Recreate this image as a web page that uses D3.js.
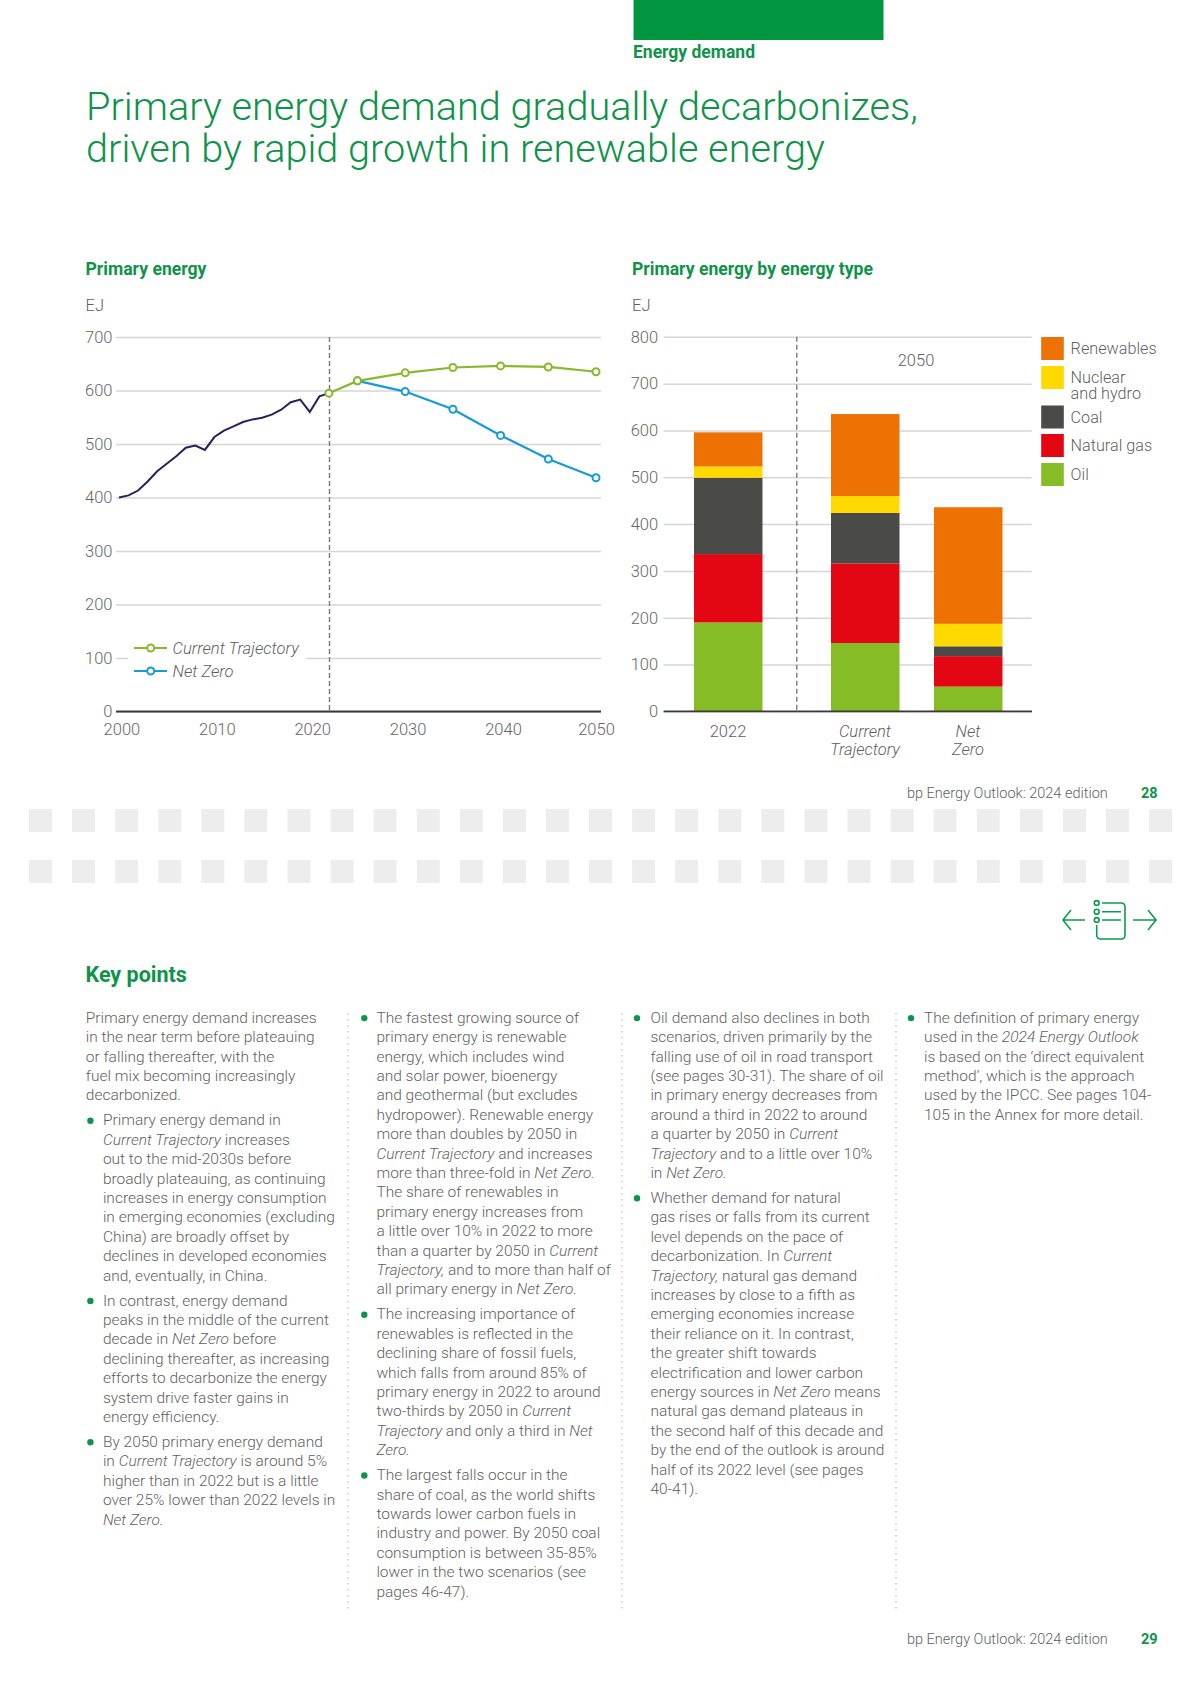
<!DOCTYPE html>
<html>
<head>
<meta charset="utf-8">
<title>Primary energy demand</title>
<script src="https://cdn.jsdelivr.net/npm/d3@7"></script>
<style>
  html, body { margin: 0; padding: 0; background: #fff; }
  svg { display: block; }
  text { font-family: Roboto, "Liberation Sans", sans-serif; font-weight: 300; fill: #5f5f5f; }
  .green { fill: #0f9349; }
  .bold { font-weight: 700; }
  .tick text { font-size: 16.5px; fill: #666; }
</style>
</head>
<body>
<svg id="page" width="1200" height="1692"></svg>
<script>
/* CHART DATA */
var historyYears = d3.range(2000, 2023);
var historyValues = [400, 404, 413, 430, 449, 463, 477, 493, 497, 489, 513, 525, 533, 541, 546, 549, 555, 564, 578, 583, 560, 589, 595];
var scenarioYears = [2022, 2025, 2030, 2035, 2040, 2045, 2050];
var currentTrajectory = [595, 618, 633, 643, 646, 644, 635];
var netZeroYears = [2025, 2030, 2035, 2040, 2045, 2050];
var netZero = [618, 598, 565, 516, 472, 437];
var lineTicksY = [0, 100, 200, 300, 400, 500, 600, 700];
var lineTicksX = [2000, 2010, 2020, 2030, 2040, 2050];

var barGroups = ['2022', 'Current Trajectory', 'Net Zero'];
var oil = [190, 146, 53];
var naturalGas = [146, 170, 65];
var coal = [163, 108, 21];
var nuclearHydro = [24, 36, 48];
var renewables = [73, 175, 249];
var barTicksY = [0, 100, 200, 300, 400, 500, 600, 700, 800];

/* KEY POINTS TEXT, ONE ENTRY PER PRINTED LINE. *...* IS ITALIC */
var column1 = [
  { bullet: false, lines: ['Primary energy demand increases', 'in the near term before plateauing', 'or falling thereafter, with the', 'fuel mix becoming increasingly', 'decarbonized.'] },
  { bullet: true, lines: ['Primary energy demand in', '*Current Trajectory* increases', 'out to the mid-2030s before', 'broadly plateauing, as continuing', 'increases in energy consumption', 'in emerging economies (excluding', 'China) are broadly offset by', 'declines in developed economies', 'and, eventually, in China.'] },
  { bullet: true, lines: ['In contrast, energy demand', 'peaks in the middle of the current', 'decade in *Net Zero* before', 'declining thereafter, as increasing', 'efforts to decarbonize the energy', 'system drive faster gains in', 'energy efficiency.'] },
  { bullet: true, lines: ['By 2050 primary energy demand', 'in *Current Trajectory* is around 5%', 'higher than in 2022 but is a little', 'over 25% lower than 2022 levels in', '*Net Zero.*'] }
];
var column2 = [
  { bullet: true, lines: ['The fastest growing source of', 'primary energy is renewable', 'energy, which includes wind', 'and solar power, bioenergy', 'and geothermal (but excludes', 'hydropower). Renewable energy', 'more than doubles by 2050 in', '*Current Trajectory* and increases', 'more than three-fold in *Net Zero.*', 'The share of renewables in', 'primary energy increases from', 'a little over 10% in 2022 to more', 'than a quarter by 2050 in *Current*', '*Trajectory,* and to more than half of', 'all primary energy in *Net Zero.*'] },
  { bullet: true, lines: ['The increasing importance of', 'renewables is reflected in the', 'declining share of fossil fuels,', 'which falls from around 85% of', 'primary energy in 2022 to around', 'two-thirds by 2050 in *Current*', '*Trajectory* and only a third in *Net*', '*Zero.*'] },
  { bullet: true, lines: ['The largest falls occur in the', 'share of coal, as the world shifts', 'towards lower carbon fuels in', 'industry and power. By 2050 coal', 'consumption is between 35-85%', 'lower in the two scenarios (see', 'pages 46-47).'] }
];
var column3 = [
  { bullet: true, lines: ['Oil demand also declines in both', 'scenarios, driven primarily by the', 'falling use of oil in road transport', '(see pages 30-31). The share of oil', 'in primary energy decreases from', 'around a third in 2022 to around', 'a quarter by 2050 in *Current*', '*Trajectory* and to a little over 10%', 'in *Net Zero.*'] },
  { bullet: true, lines: ['Whether demand for natural', 'gas rises or falls from its current', 'level depends on the pace of', 'decarbonization. In *Current*', '*Trajectory,* natural gas demand', 'increases by close to a fifth as', 'emerging economies increase', 'their reliance on it. In contrast,', 'the greater shift towards', 'electrification and lower carbon', 'energy sources in *Net Zero* means', 'natural gas demand plateaus in', 'the second half of this decade and', 'by the end of the outlook is around', 'half of its 2022 level (see pages', '40-41).'] }
];
var column4 = [
  { bullet: true, lines: ['The definition of primary energy', 'used in the *2024 Energy Outlook*', 'is based on the \u2018direct equivalent', 'method\u2019, which is the approach', 'used by the IPCC. See pages 104-', '105 in the Annex for more detail.'] }
];

var svg = d3.select('#page');

function addText(x, y, str, size, opts) {
  opts = opts || {};
  return svg.append('text')
    .attr('x', x).attr('y', y)
    .attr('font-size', size)
    .attr('text-anchor', opts.anchor || 'start')
    .attr('class', opts.cls || null)
    .style('font-style', opts.italic ? 'italic' : null)
    .text(str);
}

/* PAGE FURNITURE */
svg.append('rect').attr('x', 633.5).attr('y', 0).attr('width', 250).attr('height', 40).attr('fill', '#009640');
addText(633, 58, 'Energy demand', 17.5, { cls: 'green bold' });
addText(86, 119.5, 'Primary energy demand gradually decarbonizes,', 39.7, { cls: 'green' });
addText(86, 161.5, 'driven by rapid growth in renewable energy', 39.7, { cls: 'green' });
addText(85.5, 275, 'Primary energy', 17.6, { cls: 'green bold' });
addText(632, 275, 'Primary energy by energy type', 17.6, { cls: 'green bold' });
addText(85.5, 311, 'EJ', 16.5);
addText(632, 311, 'EJ', 16.5);

/* LEFT CHART: LINES */
var lineX = d3.scaleLinear().domain([2000, 2050]).range([119, 596]);
var lineY = d3.scaleLinear().domain([0, 700]).range([711.5, 337]);

svg.append('g')
  .attr('transform', 'translate(116,0)')
  .call(d3.axisLeft(lineY).tickValues(lineTicksY).tickSize(-485).tickPadding(3.5))
  .call(styleGrid);
svg.append('g')
  .attr('transform', 'translate(0,711.5)')
  .call(d3.axisBottom(lineX).tickValues(lineTicksX).tickSize(0).tickPadding(0).tickFormat(d3.format('d')))
  .call(function(g) {
    g.select('.domain').remove();
    g.selectAll('text').attr('y', 23).attr('dy', 0)
      .attr('dx', function(d) { return d === 2050 ? 0 : 2.4; });
  });
svg.append('line').attr('x1', 116).attr('x2', 601).attr('y1', 711.5).attr('y2', 711.5)
  .attr('stroke', '#3a3a3a').attr('stroke-width', 1.8);
dashed(lineX(2022) + 0.6, 337, 711.5);

var line = d3.line();
function drawSeries(years, values, color) {
  var pts = years.map(function(y, i) { return [lineX(y), lineY(values[i])]; });
  svg.append('path').attr('d', line(pts)).attr('fill', 'none').attr('stroke', color).attr('stroke-width', 2.2);
  svg.append('g').selectAll('circle').data(pts).enter().append('circle')
    .attr('cx', function(d) { return d[0]; }).attr('cy', function(d) { return d[1]; })
    .attr('r', 3.5).attr('fill', '#fff').attr('stroke', color).attr('stroke-width', 2);
}
svg.append('path')
  .attr('d', line(historyYears.map(function(y, i) { return [lineX(y), lineY(historyValues[i])]; })))
  .attr('fill', 'none').attr('stroke', '#26215e').attr('stroke-width', 2);
drawSeries(netZeroYears, netZero, '#169bd7');
drawSeries(scenarioYears, currentTrajectory, '#8ab82c');

/* LEFT LEGEND, WHITE BOX KNOCKS OUT THE 100 GRIDLINE */
svg.append('rect').attr('x', 128).attr('y', 640).attr('width', 178).attr('height', 40).attr('fill', '#fff');
[['Current Trajectory', '#8ab82c', 648], ['Net Zero', '#169bd7', 671]].forEach(function(d) {
  svg.append('line').attr('x1', 134).attr('x2', 167).attr('y1', d[2]).attr('y2', d[2]).attr('stroke', d[1]).attr('stroke-width', 2.2);
  svg.append('circle').attr('cx', 150.7).attr('cy', d[2]).attr('r', 3.5).attr('fill', '#fff').attr('stroke', d[1]).attr('stroke-width', 2);
  addText(172.5, d[2] + 6, d[0], 16.6, { italic: true });
});

/* RIGHT CHART: STACKED BARS */
var barX = d3.scaleOrdinal().domain(barGroups).range([694, 831, 934]);
var barWidth = 68.5;
var barY = d3.scaleLinear().domain([0, 800]).range([711.4, 336.8]);
var seriesKeys = ['oil', 'gas', 'coal', 'nuclear', 'renewables'];
var seriesColors = d3.scaleOrdinal().domain(seriesKeys).range(['#86bc25', '#e30613', '#4a4a49', '#ffd900', '#ee7203']);
var rows = barGroups.map(function(g, i) {
  return { group: g, oil: oil[i], gas: naturalGas[i], coal: coal[i], nuclear: nuclearHydro[i], renewables: renewables[i] };
});
var stacked = d3.stack().keys(seriesKeys)(rows);

svg.append('g')
  .attr('transform', 'translate(663.6,0)')
  .call(d3.axisLeft(barY).tickValues(barTicksY).tickSize(-368).tickPadding(5.5))
  .call(styleGrid);
dashed(796.8, 336.8, 711.4);

svg.selectAll('g.layer').data(stacked).enter().append('g')
  .attr('class', 'layer')
  .attr('fill', function(d) { return seriesColors(d.key); })
  .selectAll('rect').data(function(d) { return d; }).enter().append('rect')
  .attr('x', function(d) { return barX(d.data.group); })
  .attr('width', barWidth)
  .attr('y', function(d) { return barY(d[1]); })
  .attr('height', function(d) { return barY(d[0]) - barY(d[1]); });

svg.append('line').attr('x1', 663.6).attr('x2', 1032).attr('y1', 711.4).attr('y2', 711.4)
  .attr('stroke', '#3a3a3a').attr('stroke-width', 1.8);

addText(916, 366, '2050', 16.5, { anchor: 'middle' });
addText(728, 737, '2022', 16.5, { anchor: 'middle' });
addText(865, 737, 'Current', 16.5, { anchor: 'middle', italic: true });
addText(865, 755, 'Trajectory', 16.5, { anchor: 'middle', italic: true });
addText(968, 737, 'Net', 16.5, { anchor: 'middle', italic: true });
addText(968, 755, 'Zero', 16.5, { anchor: 'middle', italic: true });

/* RIGHT LEGEND */
var legendKeys = ['renewables', 'nuclear', 'coal', 'gas', 'oil'];
var legendTop = [337, 366, 405.5, 434, 463];
var legendLabels = [['Renewables'], ['Nuclear', 'and hydro'], ['Coal'], ['Natural gas'], ['Oil']];
legendKeys.forEach(function(k, i) {
  svg.append('rect').attr('x', 1041.2).attr('y', legendTop[i]).attr('width', 22.6).attr('height', 23)
    .attr('fill', seriesColors(k));
  legendLabels[i].forEach(function(t, j) {
    addText(1070.6, legendTop[i] + 17 + j * 15.8, t, 16.2);
  });
});

/* FOOTERS */
addText(907, 798, 'bp Energy Outlook: 2024 edition', 14.5);
addText(1141, 798, '28', 14.5, { cls: 'green bold' });
addText(907, 1644, 'bp Energy Outlook: 2024 edition', 14.5);
addText(1141, 1644, '29', 14.5, { cls: 'green bold' });

/* GREY SQUARES BETWEEN THE PAGES */
[809, 860].forEach(function(y) {
  svg.append('g').selectAll('rect').data(d3.range(27)).enter().append('rect')
    .attr('x', function(d) { return 29 + d * 43.08; })
    .attr('y', y).attr('width', 23).attr('height', 23).attr('fill', '#ededed');
});

/* NAVIGATION ICON */
var icon = svg.append('g').attr('fill', 'none').attr('stroke', '#0f9a4e').attr('stroke-width', 1.6);
icon.append('path').attr('d', 'M1085 920H1063M1071 910L1063 920L1071 930');
icon.append('path').attr('d', 'M1133 920H1156M1148 910L1156 920L1148 930');
icon.append('path').attr('d', 'M1102 903H1121Q1125 903 1125 907V935Q1125 939 1121 939H1101Q1096.7 939 1096.7 935V925');
icon.append('path').attr('d', 'M1102 911.7H1121M1102 920H1121');
[903, 911.7, 920].forEach(function(y) {
  icon.append('circle').attr('cx', 1096.7).attr('cy', y).attr('r', 2.4);
});

/* KEY POINTS */
addText(85.5, 982, 'Key points', 21.5, { cls: 'green bold' });
var BODY_SIZE = 15.5, LINE_STEP = 19.4, PARA_GAP = 5.6;

function drawColumn(paragraphs, textX, dotX) {
  var y = 1022.7;
  paragraphs.forEach(function(p) {
    if (p.bullet) {
      svg.append('circle').attr('cx', dotX).attr('cy', y - 4.6).attr('r', 3.2).attr('fill', '#0f9349');
    }
    p.lines.forEach(function(l) {
      var t = svg.append('text').attr('x', p.bullet ? textX : dotX - 4.6).attr('y', y).attr('font-size', BODY_SIZE);
      l.split('*').forEach(function(part, i) {
        if (part.length) t.append('tspan').style('font-style', i % 2 ? 'italic' : null).text(part);
      });
      y += LINE_STEP;
    });
    y += PARA_GAP;
  });
}
drawColumn(column1, 102.9, 90.4);
drawColumn(column2, 376.4, 364.3);
drawColumn(column3, 650.4, 637);
drawColumn(column4, 924, 911);

[348, 622, 896].forEach(function(x) {
  svg.append('line').attr('x1', x).attr('x2', x).attr('y1', 1013).attr('y2', 1609)
    .attr('stroke', '#cccccc').attr('stroke-width', 1.6).attr('stroke-dasharray', '1.6 4.4');
});

function styleGrid(g) {
  g.select('.domain').remove();
  g.selectAll('.tick line').attr('stroke', '#d6d6d6').attr('stroke-width', 1.5);
}
function dashed(x, y1, y2) {
  svg.append('line').attr('x1', x).attr('x2', x).attr('y1', y1).attr('y2', y2)
    .attr('stroke', '#7b7b7b').attr('stroke-width', 1.4).attr('stroke-dasharray', '5 3');
}
</script>
</body>
</html>
